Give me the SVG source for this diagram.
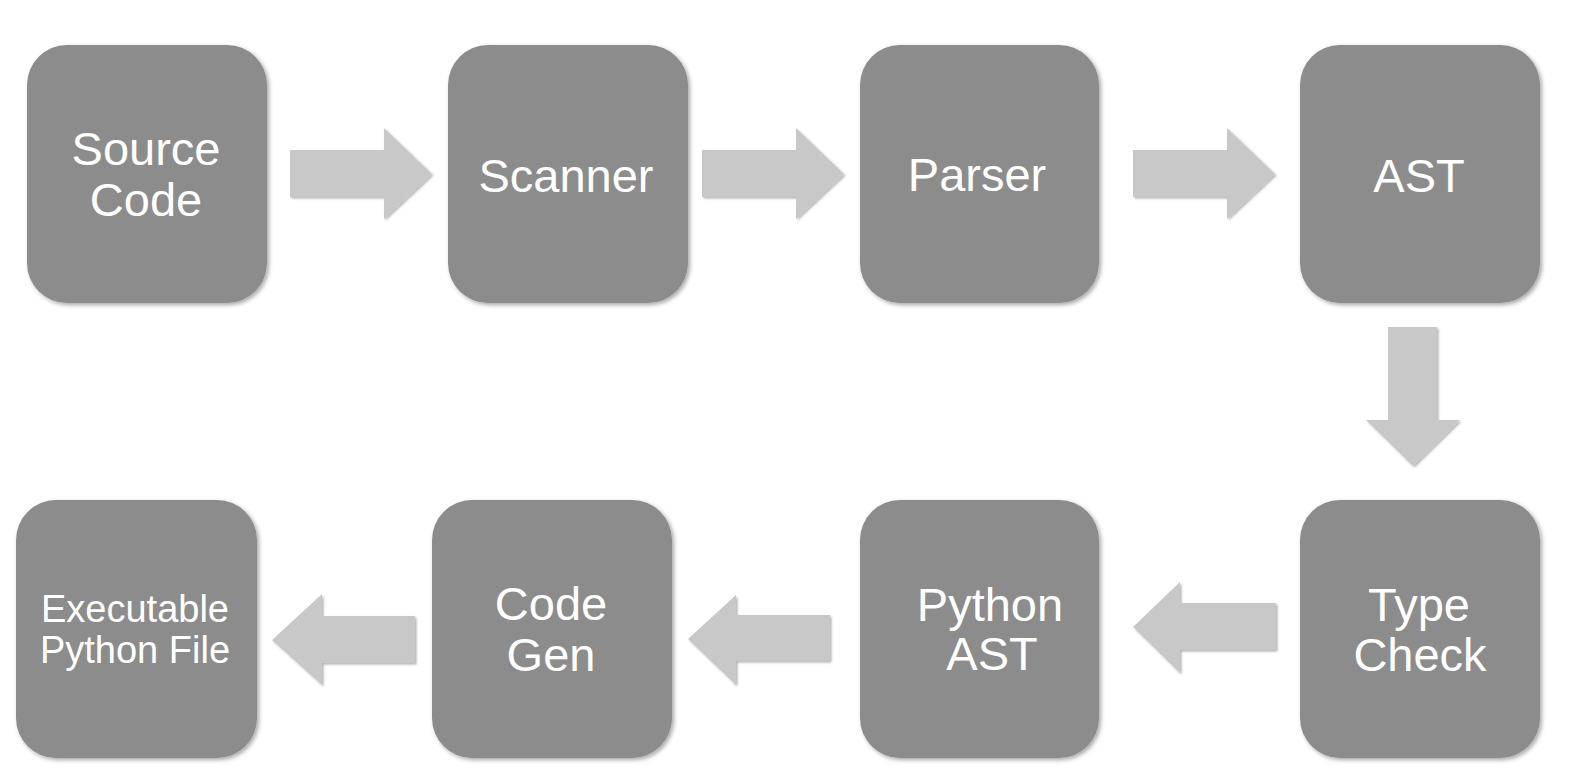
<svg xmlns="http://www.w3.org/2000/svg" width="1586" height="778" viewBox="0 0 1586 778">
<defs>
<filter id="sh" x="-10%" y="-10%" width="125%" height="125%">
<feDropShadow dx="2" dy="2" stdDeviation="2" flood-color="#000" flood-opacity="0.35"/>
</filter>
<filter id="ash" x="-10%" y="-10%" width="125%" height="125%">
<feDropShadow dx="1.5" dy="1.5" stdDeviation="1.2" flood-color="#000" flood-opacity="0.3"/>
</filter>
</defs>
<style>
.box{fill:#8c8c8c;filter:url(#sh)}
.lbl{fill:#ffffff;font-family:"Liberation Sans",Arial,sans-serif;font-size:47px;text-anchor:middle}
.sm{font-size:38px}
.arr{fill:#c8c8c8;filter:url(#ash)}
</style>
<rect width="1586" height="778" fill="#ffffff"/>
<g id="connectors">
<polygon class="arr" points="290,150 384,150 384,128 432,174 384,219 384,197 290,197"/>
<polygon class="arr" points="702,150 796,150 796,128 844,174 796,219 796,197 702,197"/>
<polygon class="arr" points="1133,150 1227,150 1227,128 1275,174 1227,219 1227,197 1133,197"/>
<polygon class="arr" points="1388,327 1437,327 1437,420 1460,420 1413,466 1366,420 1388,420"/>
<polygon class="arr" points="1276,603 1180,603 1180,582 1133,627 1180,673 1180,650 1276,650"/>
<polygon class="arr" points="830,615 736,615 736,595 688,639 736,685 736,661 830,661"/>
<polygon class="arr" points="415,616 322,616 322,594 272,640 322,685 322,663 415,663"/>
</g>
<g id="source-code">
<rect class="box" x="27" y="45" width="240" height="258" rx="40"/>
<text class="lbl" x="146" y="165">Source</text>
<text class="lbl" x="146" y="216">Code</text>
</g>
<g id="scanner">
<rect class="box" x="448" y="45" width="240" height="258" rx="40"/>
<text class="lbl" x="566" y="192">Scanner</text>
</g>
<g id="parser">
<rect class="box" x="860" y="45" width="239" height="258" rx="40"/>
<text class="lbl" x="977" y="191">Parser</text>
</g>
<g id="ast">
<rect class="box" x="1300" y="45" width="240" height="258" rx="40"/>
<text class="lbl" x="1419" y="192">AST</text>
</g>
<g id="type-check">
<rect class="box" x="1300" y="500" width="240" height="258" rx="40"/>
<text class="lbl" x="1419" y="621">Type</text>
<text class="lbl" x="1420" y="671">Check</text>
</g>
<g id="python-ast">
<rect class="box" x="860" y="500" width="239" height="258" rx="40"/>
<text class="lbl" x="990" y="621">Python</text>
<text class="lbl" x="992" y="670">AST</text>
</g>
<g id="code-gen">
<rect class="box" x="432" y="500" width="240" height="258" rx="40"/>
<text class="lbl" x="551" y="620">Code</text>
<text class="lbl" x="551" y="671">Gen</text>
</g>
<g id="executable-python-file">
<rect class="box" x="16" y="500" width="241" height="258" rx="40"/>
<text class="lbl sm" x="135" y="622">Executable</text>
<text class="lbl sm" x="135" y="663">Python File</text>
</g>
</svg>
